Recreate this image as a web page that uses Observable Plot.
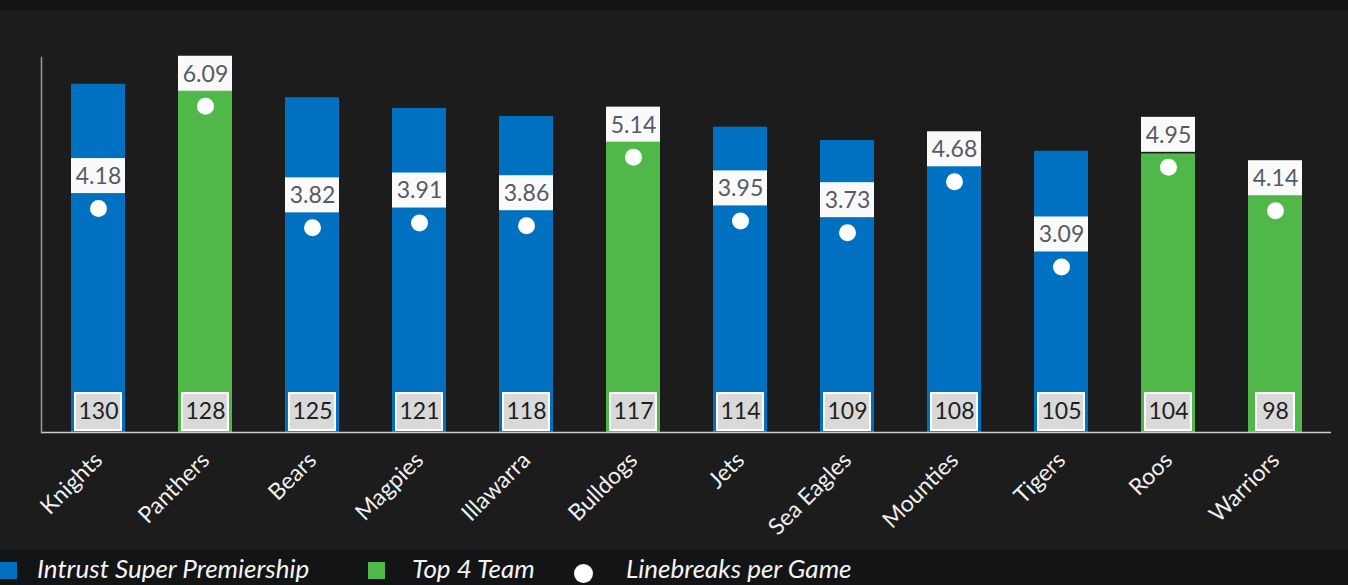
<!DOCTYPE html>
<html><head><meta charset="utf-8">
<script src="https://cdn.jsdelivr.net/npm/d3@7"></script>
<script src="https://cdn.jsdelivr.net/npm/@observablehq/plot@0.6"></script>
<style>
html,body{margin:0;padding:0;background:#1c1c1c;overflow:hidden;}
body{width:1348px;height:585px;position:relative;font-family:Lato,"Open Sans",sans-serif;}
#top{height:10px;background:#141414;}
#chart{height:540px;}
#legend{position:absolute;top:550px;left:0;width:1348px;height:35px;background:#131416;overflow:hidden;}
.sw{position:absolute;top:12px;width:17px;height:17px;}
.lt{position:absolute;top:3px;font-style:italic;font-size:26px;color:#f4f4f4;white-space:nowrap;line-height:30px;}
.dot{position:absolute;top:14px;width:19px;height:19px;border-radius:50%;background:#fff;}
</style></head><body>
<div id="top"></div>
<div id="chart"></div>
<div id="legend">
  <div class="sw" style="left:0;background:#0070c0"></div>
  <div class="lt" style="left:37px">Intrust Super Premiership</div>
  <div class="sw" style="left:368px;background:#50b848"></div>
  <div class="lt" style="left:412px">Top 4 Team</div>
  <div class="dot" style="left:574px"></div>
  <div class="lt" style="left:626px">Linebreaks per Game</div>
</div>
<script>
const teams = ["Knights","Panthers","Bears","Magpies","Illawarra","Bulldogs","Jets","Sea Eagles","Mounties","Tigers","Roos","Warriors"];
const tries = [130,128,125,121,118,117,114,109,108,105,104,98];
const linebreaks = [4.18,6.09,3.82,3.91,3.86,5.14,3.95,3.73,4.68,3.09,4.95,4.14];
const top4 = [false,true,false,false,false,true,false,false,false,false,true,true];
const groups = ["Intrust Super Premiership","Top 4 Team"];
const groupColors = ["#0070c0","#50b848"];
const yMax = 140, lbMax = 7;

const data = teams.map((t,i)=>({team:t, tries:tries[i], lb:linebreaks[i], group: top4[i]?groups[1]:groups[0]}));
const k = yMax/lbMax;
const lbY = d => d.lb*k;

const chart = Plot.plot({
  width:1348, height:540,
  marginTop:47, marginBottom:118, marginLeft:41, marginRight:17,
  style:{background:"transparent", color:"#f2f2f2", fontFamily:"Lato, 'Open Sans', sans-serif"},
  x:{domain:teams, paddingInner:0.5, paddingOuter:0.25, label:null},
  y:{domain:[0,yMax], axis:null},
  color:{domain:groups, range:groupColors},
  marks:[
    Plot.barY(data,{x:"team", y:"tries", fill:"group"}),
    Plot.ruleY([0],{stroke:"#d0d0d0", strokeWidth:1.5}),
    Plot.frame({anchor:"left", stroke:"#9a9a9a", strokeWidth:1.5}),
    Plot.barY(data,{x:"team", y1:lbY, y2:lbY, fill:"#fafafa", insetTop:-50, insetBottom:15}),
    Plot.text(data,{x:"team", y:lbY, text:d=>d.lb.toFixed(2), dy:-32, fill:"#555b66", fontSize:23}),
    Plot.dot(data,{x:"team", y:lbY, r:8.5, fill:"#ffffff", stroke:null}),
    Plot.barY(data.filter(d=>d.tries>=100),{x:"team", y1:0, y2:0, insetTop:-39, insetBottom:2, insetLeft:4, insetRight:4, fill:"#d9d9d9", stroke:"#ffffff", strokeWidth:2}),
    Plot.barY(data.filter(d=>d.tries<100),{x:"team", y1:0, y2:0, insetTop:-39, insetBottom:2, insetLeft:8, insetRight:8, fill:"#d9d9d9", stroke:"#ffffff", strokeWidth:2}),
    Plot.text(data,{x:"team", y:0, text:d=>String(d.tries), dy:-21, fill:"#1e1e1e", fontSize:23}),
    Plot.axisX({tickSize:0, tickRotate:-45, tickPadding:24, fontSize:23, fill:"#f0f0f0", label:null})
  ]
});
document.getElementById("chart").appendChild(chart);
</script>
</body></html>
